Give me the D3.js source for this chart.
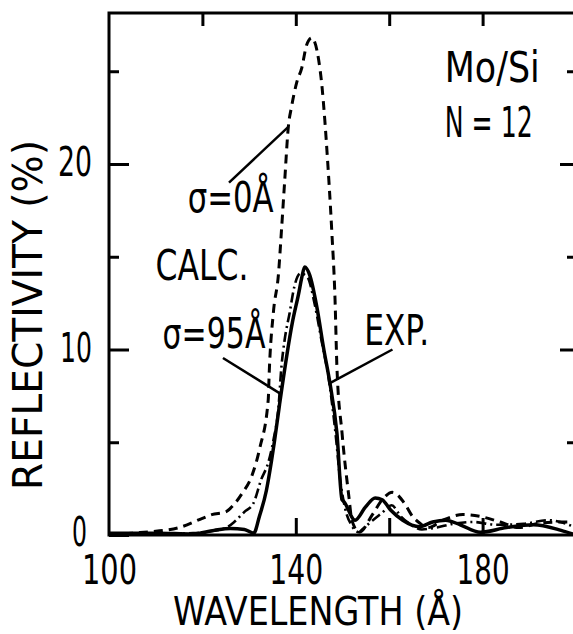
<!DOCTYPE html>
<html>
<head>
<meta charset="utf-8">
<script src="https://cdn.jsdelivr.net/npm/d3@7/dist/d3.min.js"></script>
<style>
body { margin: 0; background: #fff; }
svg text { font-family: "DejaVu Sans", "Liberation Sans", sans-serif; fill: #000; }
</style>
</head>
<body>
<div id="chart"></div>
<script>
//Datos (longitud de onda en Å, reflectividad en %)
const wlCalc0 = [100, 105, 110, 115, 120, 122, 125, 126.6, 128.4, 130.6, 132.3, 134.1, 134.3, 135.2, 136.3, 136.9, 137.6, 138.4, 139.1, 140.2, 141.3, 142.3, 143.4, 144.9, 145.6, 146.2, 146.7, 147.7, 148.4, 148.8, 149.9, 151.4, 152, 153.6, 156.4, 158.5, 160.7, 163.3, 165, 166.5, 168.3, 171.5, 175.8, 179.5, 183.8, 187.7, 192.4, 198, 200];
const rCalc0 = [0, 0.1, 0.2, 0.4, 0.9, 1.1, 1.25, 1.6, 2.2, 3.2, 4.7, 7.3, 8.7, 12, 14.1, 16.3, 19, 22, 23.1, 24.4, 25.2, 26.4, 26.8, 25.6, 24.2, 22.4, 20.6, 16.4, 12.7, 9.1, 5.5, 2.0, 0.8, 0.15, 1.1, 1.9, 2.3, 1.7, 1.0, 0.65, 0.4, 0.8, 1.1, 1.0, 0.7, 0.4, 0.65, 0.7, 0.7];

const wlCalc95 = [100, 110, 118, 122, 125.5, 126.8, 129, 130.9, 132.6, 134.1, 135.2, 136.3, 136.9, 137.6, 138.7, 139.7, 141, 142.5, 144, 145.5, 147, 148.5, 149.5, 150.5, 152, 153.5, 154.2, 156.5, 158.5, 160.5, 162.5, 165, 167, 170, 173.6, 178, 183, 188.8, 194, 200];
const rCalc95 = [0, 0.05, 0.1, 0.2, 0.45, 0.7, 1.25, 1.7, 3.0, 3.9, 5.1, 6.9, 9.0, 10.5, 12.0, 13.4, 14.1, 13.9, 12.5, 10.5, 8.5, 5.5, 3.0, 1.5, 0.5, 0.15, 0.3, 0.8, 1.2, 1.6, 1.0, 0.5, 0.3, 0.4, 0.6, 0.7, 0.55, 0.6, 0.8, 0.4];

const wlExp = [100, 110, 118, 122.5, 126, 129, 131, 132.2, 133.7, 134.8, 135.4, 136.5, 139.3, 140.6, 141.3, 141.9, 143, 144.5, 146, 147.3, 148.8, 149.9, 150.3, 152.7, 154.9, 157, 158.5, 160.3, 162.9, 166.5, 169.3, 172.1, 175.2, 179.5, 185.1, 190.9, 196.8, 200];
const rExp = [0.1, 0.1, 0.05, 0.25, 0.35, 0.3, 0.1, 1.0, 2.4, 4.0, 5.0, 7.0, 11.5, 13.0, 13.9, 14.45, 14.0, 12.3, 10.0, 8.2, 5.5, 1.9, 1.8, 0.8, 1.5, 2.0, 1.9, 1.35, 0.8, 0.45, 0.7, 0.8, 0.55, 0.15, 0.4, 0.55, 0.25, 0];

//Ejes
const xLabelTicks = [100, 140, 180];
const xBottomTicks = [140, 160, 180];
const xTopTicks = [120, 140, 160, 180];
const yMajorTicks = [0, 10, 20];
const yMinorTicks = [5, 15, 25];

//Anotaciones: [texto, lambda, R en línea base, ancho]
const notes = [
    ['Mo/Si', 171.9, 24.42, 95],
    ['N = 12', 171.9, 21.46, 88],
    ['σ=0Å', 116.85, 17.41, 86],
    ['CALC.', 109.94, 13.75, 93],
    ['σ=95Å', 111.45, 10.08, 103],
    ['EXP.', 154.64, 10.24, 65]
];
const leaders = [
    [[125.7, 19.0], [138.4, 22.0]],
    [[124.4, 9.54], [136.5, 7.65]],
    [[147.3, 8.19], [160.7, 10.0]]
];

const W = 573, H = 634;
const labelWidths = {0: 15, 10: 32, 20: 34, 100: 55, 140: 54, 180: 53};

let svg = d3.select('#chart').append('svg')
    .attr('width', W).attr('height', H);

let x = d3.scaleLinear().domain([100, 200]).range([109, 576]);
let y = d3.scaleLinear().domain([0, 28.14]).range([535, 13]);

let line = d3.line()
    .x(d => x(d[0]))
    .y(d => y(d[1]))
    .curve(d3.curveMonotoneX);

//Curvas
svg.append('path')
    .datum(d3.zip(wlCalc0, rCalc0))
    .attr('d', line)
    .attr('fill', 'none').attr('stroke', '#000')
    .attr('stroke-width', 3).attr('stroke-dasharray', '9,6');

svg.append('path')
    .datum(d3.zip(wlCalc95, rCalc95))
    .attr('d', line)
    .attr('fill', 'none').attr('stroke', '#000')
    .attr('stroke-width', 2.6).attr('stroke-dasharray', '10,4,2,4');

svg.append('path')
    .datum(d3.zip(wlExp, rExp))
    .attr('d', line)
    .attr('fill', 'none').attr('stroke', '#000')
    .attr('stroke-width', 3.5).attr('stroke-linejoin', 'round');

//Marco
svg.append('rect')
    .attr('x', x(100)).attr('y', y(28.14))
    .attr('width', x(200) - x(100)).attr('height', y(0) - y(28.14))
    .attr('fill', 'none').attr('stroke', '#000').attr('stroke-width', 3);

function styleAxis(g) {
    g.select('.domain').remove();
    g.selectAll('line').attr('stroke', '#000').attr('stroke-width', 3);
    g.selectAll('text')
        .attr('font-size', 40)
        .attr('font-family', '"DejaVu Sans", sans-serif')
        .attr('fill', '#000')
        .attr('lengthAdjust', 'spacingAndGlyphs')
        .attr('textLength', d => labelWidths[d] || null);
}

svg.append('g').attr('transform', 'translate(' + x(100) + ',0)')
    .call(d3.axisLeft(y).tickValues(yMajorTicks).tickSize(-20).tickPadding(17).tickFormat(d3.format('d')))
    .call(styleAxis)
    .call(g => g.selectAll('text').attr('dy', d => d === 0 ? '0.26em' : '0.3em').attr('dx', d => d === 0 ? -5 : 0));
svg.append('g').attr('transform', 'translate(' + x(100) + ',0)')
    .call(d3.axisLeft(y).tickValues(yMinorTicks).tickSize(-10).tickFormat(''))
    .call(styleAxis);

svg.append('g').attr('transform', 'translate(' + x(200) + ',0)')
    .call(d3.axisRight(y).tickValues([10, 20]).tickSize(-16).tickFormat(''))
    .call(styleAxis);
svg.append('g').attr('transform', 'translate(' + x(200) + ',0)')
    .call(d3.axisRight(y).tickValues(yMinorTicks).tickSize(-9).tickFormat(''))
    .call(styleAxis);

svg.append('g').attr('transform', 'translate(0,' + y(0) + ')')
    .call(d3.axisBottom(x).tickValues(xBottomTicks).tickSize(-17).tickFormat(''))
    .call(styleAxis);
svg.append('g').attr('transform', 'translate(0,' + y(0) + ')')
    .call(d3.axisBottom(x).tickValues(xLabelTicks).tickSize(0).tickPadding(21).tickFormat(d3.format('d')))
    .call(styleAxis);

svg.append('g').attr('transform', 'translate(0,' + y(28.14) + ')')
    .call(d3.axisTop(x).tickValues(xTopTicks).tickSize(-13).tickFormat(''))
    .call(styleAxis);

//Títulos de ejes
svg.append('text')
    .attr('x', 173).attr('y', 625)
    .attr('font-size', 39)
    .attr('textLength', 290).attr('lengthAdjust', 'spacingAndGlyphs')
    .text('WAVELENGTH (Å)');

svg.append('text')
    .attr('transform', 'translate(42,315) rotate(-90)')
    .attr('text-anchor', 'middle')
    .attr('font-size', 41)
    .attr('textLength', 350).attr('lengthAdjust', 'spacingAndGlyphs')
    .text('REFLECTIVITY (%)');

//Anotaciones (estrechadas horizontalmente para imitar la tipografía condensada)
svg.selectAll('.note')
    .data(notes)
    .enter().append('text')
    .attr('class', 'note')
    .attr('font-size', 42)
    .text(d => d[0])
    .attr('transform', function(d) {
        let natural = this.getComputedTextLength();
        let k = d[3] / natural;
        return 'translate(' + x(d[1]) + ',' + y(d[2]) + ') scale(' + k + ',1)';
    });

svg.selectAll('.leader')
    .data(leaders)
    .enter().append('line')
    .attr('class', 'leader')
    .attr('x1', d => x(d[0][0])).attr('y1', d => y(d[0][1]))
    .attr('x2', d => x(d[1][0])).attr('y2', d => y(d[1][1]))
    .attr('stroke', '#000').attr('stroke-width', 2.5);
</script>
</body>
</html>
